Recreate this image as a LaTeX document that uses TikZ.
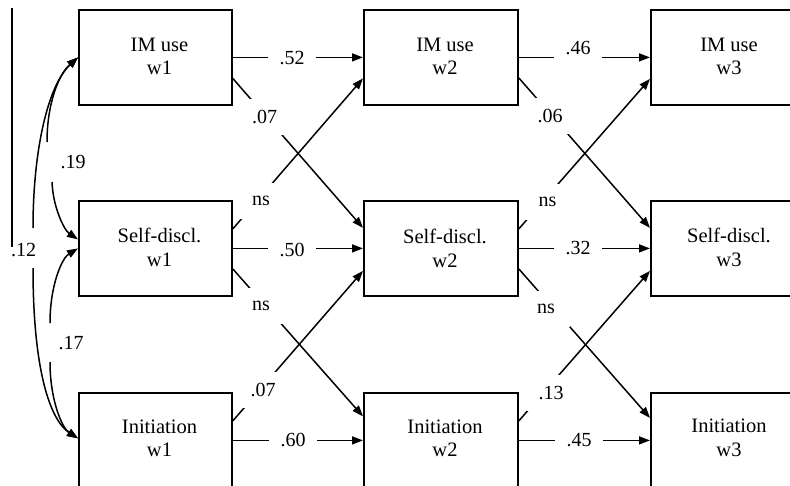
\documentclass[tikz,border=0pt]{standalone}
\usepackage{fontspec}
\setmainfont{Liberation Serif}
\usetikzlibrary{arrows.meta,calc}
\begin{document}
\begin{tikzpicture}[x=1pt,y=-1pt,
  box/.style={draw,line width=1.8pt,minimum height=95pt,inner sep=0pt,anchor=north west},
  txt/.style={align=center,font=\fontsize{20.5}{23.5}\selectfont,inner sep=0pt},
  lbl/.style={fill=white,font=\fontsize{20}{24}\selectfont,inner sep=0pt,minimum width=48pt,minimum height=36pt},
  clbl/.style={font=\fontsize{20}{24}\selectfont,inner sep=0pt},
  arr/.style={line width=1.5pt,-{Triangle[length=11pt,width=8pt]}},
  corr/.style={line width=1.5pt,-{Triangle[length=11pt,width=8pt]}},
]
\useasboundingbox (0,0) rectangle (790,485);
\clip (0,0) rectangle (790,485);

% boxes
\node[box,minimum width=153pt] (im1) at (78,9) {};
\node[box,minimum width=153pt] (sd1) at (78,200) {};
\node[box,minimum width=153pt] (in1) at (78,392) {};
\node[box,minimum width=154pt] (im2) at (363,9) {};
\node[box,minimum width=154pt] (sd2) at (363,200) {};
\node[box,minimum width=154pt] (in2) at (363,392) {};
\node[box,minimum width=160pt] (im3) at (650,9) {};
\node[box,minimum width=160pt] (sd3) at (650,200) {};
\node[box,minimum width=160pt] (in3) at (650,392) {};

% box texts
\node[txt] (im1t) at (159.5,56.5) {IM use\\w1};
\node[txt] (sd1t) at (159.5,247.5) {Self-discl.\\w1};
\node[txt] (in1t) at (159.5,438.5) {Initiation\\w1};
\node[txt] (im2t) at (445,56.5) {IM use\\w2};
\node[txt] (sd2t) at (445,248.5) {Self-discl.\\w2};
\node[txt] (in2t) at (445,438.5) {Initiation\\w2};
\node[txt] (im3t) at (729,56.5) {IM use\\w3};
\node[txt] (sd3t) at (729,247.5) {Self-discl.\\w3};
\node[txt] (in3t) at (729,438) {Initiation\\w3};

% paths wave 1 -> wave 2
\draw[arr] (im1.east) -- (im2.west);
\draw[arr] ($(im1.east)+(0,21)$) -- ($(sd2.west)+(0,-20.5)$);
\draw[arr] ($(sd1.east)+(0,-19.5)$) -- ($(im2.west)+(0,21)$);
\draw[arr] (sd1.east) -- (sd2.west);
\draw[arr] ($(sd1.east)+(0,20.5)$) -- ($(in2.west)+(0,-24)$);
\draw[arr] ($(in1.east)+(0,-19.5)$) -- ($(sd2.west)+(0,22.5)$);
\draw[arr] (in1.east) -- (in2.west);

% paths wave 2 -> wave 3
\draw[arr] (im2.east) -- (im3.west);
\draw[arr] ($(im2.east)+(0,20.5)$) -- ($(sd3.west)+(0,-20.5)$);
\draw[arr] ($(sd2.east)+(0,-19.5)$) -- ($(im3.west)+(0,21.5)$);
\draw[arr] (sd2.east) -- (sd3.west);
\draw[arr] ($(sd2.east)+(0,20.5)$) -- ($(in3.west)+(0,-22.5)$);
\draw[arr] ($(in2.east)+(0,-19.5)$) -- ($(sd3.west)+(0,22.5)$);
\draw[arr] (in2.east) -- (in3.west);

% path labels
\node[lbl] (l52) at (292,58) {.52};
\node[lbl] (l07a) at (264.5,117) {.07};
\node[lbl] (lns1) at (261,201) {ns};
\node[lbl] (l50) at (292,250) {.50};
\node[lbl] (lns2) at (261,306) {ns};
\node[lbl] (l07b) at (263,390) {.07};
\node[lbl] (l60) at (293,439.5) {.60};
\node[lbl] (l46) at (578,48) {.46};
\node[lbl] (l06) at (550,116) {.06};
\node[lbl] (lns3) at (547.5,202) {ns};
\node[lbl] (l32) at (578,248.5) {.32};
\node[lbl] (lns4) at (546,309) {ns};
\node[lbl] (l13) at (551,393) {.13};
\node[lbl] (l45) at (579,440) {.45};

% left vertical line
\coordinate (vtop) at (12,8);
\coordinate (vbot) at (12,247);
\draw[line width=1.4pt] (vtop) -- (vbot);

% correlations
\coordinate (c19a) at (47,142);
\coordinate (c19b) at (52,182);
\coordinate (c12a) at (33,228);
\coordinate (c12b) at (33,268);
\coordinate (c17a) at (50,323);
\coordinate (c17b) at (50,362);
\draw[corr] (c19a) .. controls (47,105) and (58,75) .. (im1.west);
\draw[corr] (c19b) .. controls (53,207) and (64,230) .. ($(sd1.west)+(0,-9)$);
\draw[corr] (c12a) .. controls (33,150) and (48,85) .. (im1.west);
\draw[corr] (c12b) .. controls (33,370) and (50,420) .. ($(in1.west)+(0,-2)$);
\draw[corr] (c17a) .. controls (50,285) and (62,258) .. (sd1.west);
\draw[corr] (c17b) .. controls (50,400) and (62,428) .. ($(in1.west)+(0,-2)$);
\node[clbl] (l19) at (73,162.5) {.19};
\node[clbl] (l17) at (71,343) {.17};
\node[clbl] (l12) at (23.5,250) {.12};
\end{tikzpicture}
\end{document}
